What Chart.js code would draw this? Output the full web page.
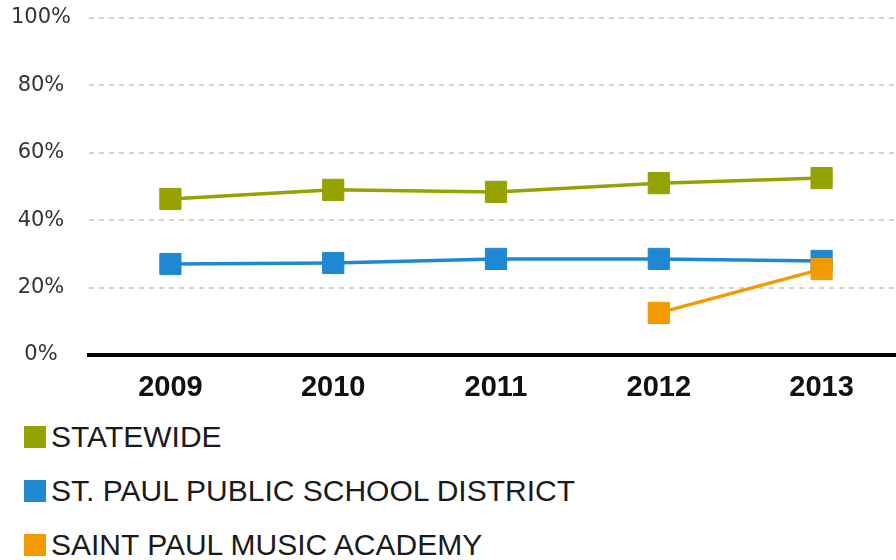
<!DOCTYPE html>
<html>
<head>
<meta charset="utf-8">
<script src="https://cdn.jsdelivr.net/npm/chart.js@4"></script>
<style>
  html, body { margin: 0; padding: 0; background: #fff; overflow: hidden; width: 896px; height: 560px; }
  #wrap { position: relative; width: 896px; height: 560px; overflow: hidden; }
  #myChart { position: absolute; left: 0; top: 0; }
  #leyenda { position: absolute; left: 24px; top: 426px; font-family: "Liberation Sans", Arial, sans-serif; font-size: 30px; color: #1a1a1a; }
  .item { display: flex; align-items: center; height: 22px; margin-bottom: 32px; white-space: nowrap; }
  .caja { width: 22px; height: 22px; margin-right: 5px; }
</style>
</head>
<body>
<div id="wrap">
  <canvas id="myChart" width="912" height="410"></canvas>
  <div id="leyenda"></div>
</div>
<script>
/* Datos */
const anos = ['2009', '2010', '2011', '2012', '2013'];
const nombres = ['STATEWIDE', 'ST. PAUL PUBLIC SCHOOL DISTRICT', 'SAINT PAUL MUSIC ACADEMY'];
const colores = ['#95a200', '#1e88d2', '#f29a00'];
const statewide = [46.3, 49.0, 48.4, 51.0, 52.5];
const distrito = [27.0, 27.3, 28.5, 28.5, 27.9];
const academia = [null, null, null, 12.5, 25.5];
const ticksY = [0, 20, 40, 60, 80, 100];

const ctx = document.getElementById('myChart');
const series = [statewide, distrito, academia];

function serie(i) {
  return {
    label: nombres[i],
    data: series[i],
    borderColor: colores[i],
    backgroundColor: colores[i],
    borderWidth: 3.5,
    pointStyle: 'rect',
    pointRadius: 15,
    pointHoverRadius: 15,
    pointBorderWidth: 1,
    pointBackgroundColor: colores[i],
    pointBorderColor: colores[i],
    order: 2 - i
  };
}

const chart = new Chart(ctx, {
  type: 'line',
  data: {
    labels: anos,
    datasets: [serie(0), serie(1), serie(2)]
  },
  options: {
    responsive: false,
    animation: false,
    layout: { autoPadding: false, padding: { top: 18, right: 9, left: 0, bottom: 0 } },
    plugins: {
      legend: { display: false },
      tooltip: { enabled: false }
    },
    scales: {
      x: {
        offset: true,
        grid: { display: false },
        border: { display: true, color: '#000', width: 4 },
        ticks: {
          color: '#111',
          padding: 8,
          font: { family: 'Liberation Sans', size: 29, weight: 'bold' }
        },
        afterFit: (scale) => { scale.height = 55; }
      },
      y: {
        min: 0,
        max: 100,
        afterBuildTicks: (scale) => { scale.ticks = ticksY.map(v => ({ value: v })); },
        grid: { color: '#d3d3d3', lineWidth: 2, drawTicks: false },
        border: { display: false, dash: [5, 5] },
        ticks: {
          color: '#333',
          padding: 18,
          crossAlign: 'center',
          font: { family: 'DejaVu Sans', size: 21 },
          callback: (v) => v + '%'
        },
        afterFit: (scale) => {
          scale.width = 89;
          scale.paddingTop = 0;
          scale.paddingBottom = 0;
        }
      }
    }
  }
});

// leyenda en HTML, una fila por serie
const leyenda = document.getElementById('leyenda');
chart.data.datasets.forEach((ds) => {
  const item = document.createElement('div');
  item.className = 'item';
  const caja = document.createElement('span');
  caja.className = 'caja';
  caja.style.background = ds.backgroundColor;
  const txt = document.createElement('span');
  txt.textContent = ds.label;
  item.appendChild(caja);
  item.appendChild(txt);
  leyenda.appendChild(item);
});
</script>
</body>
</html>
